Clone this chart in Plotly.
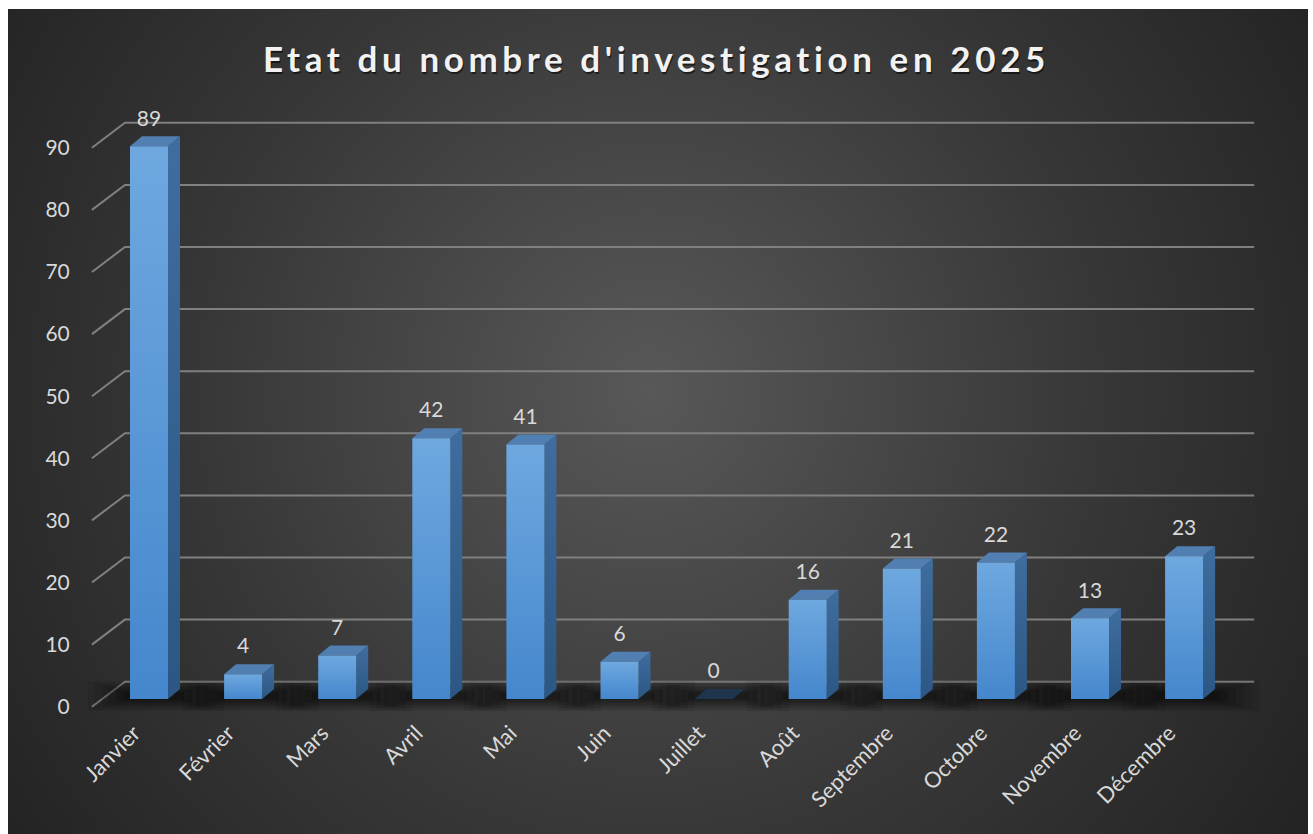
import base64
import plotly.graph_objects as go

# ---------------- data ----------------
months = ["Janvier", "Février", "Mars", "Avril", "Mai", "Juin", "Juillet",
          "Août", "Septembre", "Octobre", "Novembre", "Décembre"]
values = [89, 4, 7, 42, 41, 6, 0, 16, 21, 22, 13, 23]
y_ticks = [0, 10, 20, 30, 40, 50, 60, 70, 80, 90]
title_text = "Etat du nombre d'investigation en 2025"

# ---------------- geometry (pixels -> data units) ----------------
W, H = 1313, 834
PX_X = 94.1      # px per category
PX_Y = 6.21      # px per value unit
X0_PX = 149.0    # px of category 0 centre (bar front face)
Y0_PX = 699.0    # px of value 0 (bar front face)

BAR_W = 38 / PX_X
D_DX, D_DY = 12 / PX_X, 10 / PX_Y          # bar depth
B_DX, B_DY = 23 / PX_X, 17.3 / PX_Y        # back wall offset
F_DX, F_DY = -10 / PX_X, -7.7 / PX_Y       # front plane offset
LBL_DX = -15 / PX_X                         # category label anchor offset

left_px, right_px, bottom_px, top_px = 86, 1260, 715, 100
x_range = [(left_px - X0_PX) / PX_X, (right_px - X0_PX) / PX_X]
y_range = [(Y0_PX - bottom_px) / PX_Y, (Y0_PX - top_px) / PX_Y]

n = len(months)
xs = list(range(n))

TEXT_COL = "#d9d9d9"
FONT = "Lato"

fig = go.Figure()

# ---------------- grid (back wall) + diagonals ----------------
gx, gy = [], []
for v in y_ticks:
    gx += [-0.5 + F_DX, -0.5 + B_DX, (n - 0.5) + B_DX, None]
    gy += [v + F_DY, v + B_DY, v + B_DY, None]
fig.add_trace(go.Scatter(x=gx, y=gy, mode="lines",
                         line=dict(color="#808080", width=2),
                         hoverinfo="skip", showlegend=False))

# ---------------- floor shadows (soft, layered) ----------------
for ext_l, ext_r, wid, alpha in [(0.45, 0.60, 30, 0.08), (0.38, 0.52, 26, 0.08),
                                 (0.30, 0.44, 22, 0.10), (0.23, 0.35, 18, 0.12),
                                 (0.15, 0.26, 13, 0.15), (0.07, 0.17, 8, 0.2)]:
    sx, sy = [], []
    for i, v in enumerate(values):
        sx += [i - BAR_W / 2 - ext_l, i + BAR_W / 2 + ext_r, None]
        sy += [0.5, 0.5, None]
    fig.add_trace(go.Scatter(x=sx, y=sy, mode="lines",
                             line=dict(color=f"rgba(0,0,0,{alpha})", width=wid),
                             hoverinfo="skip", showlegend=False))

# ---------------- bars ----------------
for i, v in enumerate(values):
    xl, xr = i - BAR_W / 2, i + BAR_W / 2
    # side face
    fig.add_trace(go.Scatter(
        x=[xr, xr + D_DX, xr + D_DX, xr, xr], y=[0, D_DY, v + D_DY, v, 0],
        mode="lines", line=dict(width=0), fill="toself",
        fillgradient=dict(type="vertical",
                          colorscale=[[0, "#2c5784"], [1, "#3f6d9f"]]),
        hoverinfo="skip", showlegend=False))
    # top face
    fig.add_trace(go.Scatter(
        x=[xl, xr, xr + D_DX, xl + D_DX, xl], y=[v, v, v + D_DY, v + D_DY, v],
        mode="lines", line=dict(width=0), fill="toself",
        fillcolor="#517fb1" if v > 0 else "#1f344d",
        hoverinfo="skip", showlegend=False))
    # front face
    if v > 0:
        fig.add_trace(go.Scatter(
            x=[xl, xr, xr, xl, xl], y=[0, 0, v, v, 0], mode="lines",
            line=dict(width=0), fill="toself",
            fillgradient=dict(type="vertical",
                              colorscale=[[0, "#4587cd"], [1, "#6ea8df"]]),
            hoverinfo="skip", showlegend=False, name=months[i]))

# ---------------- data labels ----------------
fig.add_trace(go.Scatter(
    x=xs, y=[v + 26 / PX_Y for v in values], mode="text",
    text=[str(v) for v in values], textposition="middle center",
    textfont=dict(family=FONT, size=21, color=TEXT_COL),
    cliponaxis=False, hoverinfo="skip", showlegend=False))

# ---------------- background (radial gradient) ----------------
svg = f'''<svg xmlns="http://www.w3.org/2000/svg" width="{W}" height="{H}" viewBox="0 0 {W} {H}">
<defs><radialGradient id="g" cx="650" cy="390" r="820" gradientUnits="userSpaceOnUse">
<stop offset="0" stop-color="#585858"/><stop offset="0.55" stop-color="#373737"/>
<stop offset="1" stop-color="#212121"/></radialGradient></defs>
<rect width="{W}" height="{H}" fill="#ffffff"/>
<rect x="8" y="9" width="1300" height="825" fill="url(#g)"/></svg>'''
src = "data:image/svg+xml;base64," + base64.b64encode(svg.encode()).decode()

title_html = f'<b><span style="letter-spacing:4.6px">{title_text}</span></b>'
title_font = dict(family=FONT, size=35, color="#f2f2f2")

fig.update_layout(
    width=W, height=H, autosize=False,
    margin=dict(l=0, r=0, t=0, b=0, pad=0, autoexpand=False),
    paper_bgcolor="#ffffff", plot_bgcolor="rgba(0,0,0,0)",
    images=[dict(source=src, xref="paper", yref="paper", x=0, y=1,
                 sizex=1, sizey=1, sizing="stretch", layer="below")],
    showlegend=False,
    annotations=[
        dict(text=title_html, xref="paper", yref="paper", x=656 / W, y=1 - 58 / H,
             xanchor="center", yanchor="middle", showarrow=False, xshift=1.5, yshift=-2,
             font=dict(family=FONT, size=35, color="rgba(0,0,0,0.55)")),
        dict(text=title_html, xref="paper", yref="paper", x=656 / W, y=1 - 58 / H,
             xanchor="center", yanchor="middle", showarrow=False, font=title_font),
    ],
    xaxis=dict(domain=[left_px / W, right_px / W], range=x_range, automargin=False,
               tickmode="array", tickvals=[i + LBL_DX for i in xs], ticktext=months,
               tickangle=-45, ticks="", ticklen=0,
               tickfont=dict(family=FONT, size=22, color=TEXT_COL),
               showgrid=False, zeroline=False, showline=False, fixedrange=True),
    yaxis=dict(domain=[1 - bottom_px / H, 1 - top_px / H], range=y_range, automargin=False,
               tickmode="array", tickvals=[v + F_DY for v in y_ticks],
               ticktext=[str(v) for v in y_ticks],
               ticks="outside", ticklen=11, tickcolor="rgba(0,0,0,0)",
               tickfont=dict(family=FONT, size=21, color=TEXT_COL),
               showgrid=False, zeroline=False, showline=False, fixedrange=True),
)

post = ("document.body.style.margin='0';"
        "document.documentElement.style.overflow='hidden';"
        "var d=document.getElementById('{plot_id}');"
        "d.style.position='fixed';d.style.left='0px';d.style.top='0px';")
fig.write_html("out.html", config={"displayModeBar": False}, post_script=post)
